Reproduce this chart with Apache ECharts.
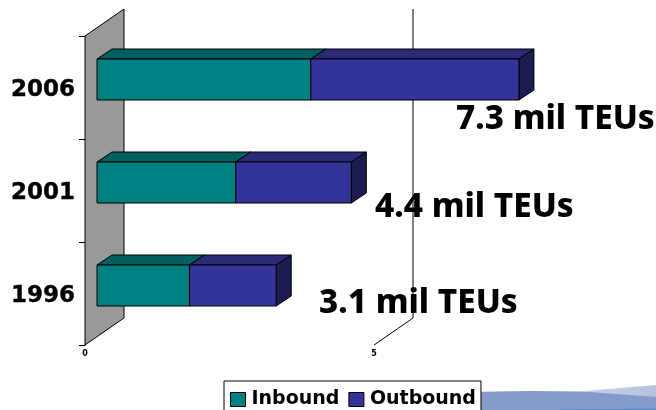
<!DOCTYPE html>
<html>
<head>
<meta charset="utf-8">
<style>
	html, body { margin: 0; padding: 0; background: #fff; }
	#chart { width: 656px; height: 410px; }
</style>
<script src="https://cdn.jsdelivr.net/npm/echarts@6/dist/echarts.min.js"></script>
</head>
<body>
<div id="chart"></div>
<script>
const categories = ['1996', '2001', '2006']
const inbound = [1.6, 2.4, 3.7]
const outbound = [1.5, 2.0, 3.6]
const totalLabels = ['3.1 mil TEUs', '4.4 mil TEUs', '7.3 mil TEUs']
const seriesNames = ['Inbound', 'Outbound']

const WALL = [39, -27]
const BAR_SHIFT = [12, -8]
const BAR_DEPTH = [15, -10]
const BAR_HEIGHT = 41
const FONT = '"DejaVu Sans", Verdana, sans-serif'
const LABEL_FONT = '"Noto Sans", "DejaVu Sans", sans-serif'

const myChart = echarts.init(document.getElementById('chart'))

function poly(points, fill, lineWidth) {
	return {
		type: 'polygon',
		shape: { points: points },
		style: { fill: fill, stroke: '#000', lineWidth: lineWidth || 1 }
	}
}

// wall at 0 and the bent grid line at 5
function renderFrame(params, api) {
	const x = api.value(0)
	const bottom = api.coord([x, 0])
	const band = api.size([0, 1])[1]
	const top = api.coord([x, 2])
	const y0 = bottom[1] + band / 2
	const y1 = top[1] - band / 2
	if (x === 0) {
		return poly([
			[bottom[0], y0],
			[bottom[0], y1],
			[bottom[0] + WALL[0], y1 + WALL[1]],
			[bottom[0] + WALL[0], y0 + WALL[1]]
		], '#999999')
	}
	return {
		type: 'polyline',
		shape: { points: [[bottom[0], y0], [bottom[0] + WALL[0], y0 + WALL[1]], [bottom[0] + WALL[0], y1 + WALL[1]]] },
		style: { fill: null, stroke: '#000', lineWidth: 1 }
	}
}

function renderBlock(colors) {
	return function (params, api) {
		const start = api.coord([api.value(1), api.value(0)])
		const end = api.coord([api.value(2), api.value(0)])
		const x0 = start[0] + BAR_SHIFT[0]
		const x1 = end[0] + BAR_SHIFT[0]
		const y0 = start[1] + BAR_SHIFT[1] - BAR_HEIGHT / 2
		const y1 = y0 + BAR_HEIGHT
		const dx = BAR_DEPTH[0]
		const dy = BAR_DEPTH[1]
		return {
			type: 'group',
			children: [
				poly([[x0, y0], [x1, y0], [x1 + dx, y0 + dy], [x0 + dx, y0 + dy]], colors[1]),
				poly([[x1, y0], [x1 + dx, y0 + dy], [x1 + dx, y1 + dy], [x1, y1]], colors[2]),
				poly([[x0, y0], [x1, y0], [x1, y1], [x0, y1]], colors[0])
			]
		}
	}
}

const inboundRows = categories.map((c, i) => [i, 0, inbound[i]])
const outboundRows = categories.map((c, i) => [i, inbound[i], inbound[i] + outbound[i]])

const labelPos = [[319, 304], [375, 208], [456, 119.5]]

const option = {
	animation: false,
	backgroundColor: '#fff',
	grid: { left: 85, top: 36, width: 462.4, height: 309 },
	xAxis: {
		type: 'value',
		min: 0,
		max: 8,
		interval: 5,
		axisLine: { show: false },
		axisTick: { show: false },
		splitLine: { show: false },
		axisLabel: {
			showMaxLabel: false,
			margin: 5,
			color: '#000',
			fontFamily: FONT,
			fontWeight: 'bold',
			fontSize: 8
		}
	},
	yAxis: {
		type: 'category',
		data: categories,
		axisLine: { show: true, lineStyle: { color: '#000' } },
		axisTick: { show: true, length: 6, lineStyle: { color: '#000' } },
		axisLabel: {
			margin: 10,
			verticalAlign: 'top',
			lineHeight: 6,
			color: '#000',
			fontFamily: FONT,
			fontWeight: 'bold',
			fontSize: 23,
			textBorderColor: '#000',
			textBorderWidth: 0.4
		}
	},
	legend: {
		data: seriesNames,
		icon: 'rect',
		left: 224,
		top: 381,
		padding: [9, 5, 6, 6],
		itemGap: 9,
		itemWidth: 15,
		itemHeight: 14,
		backgroundColor: '#fff',
		borderColor: '#000',
		borderWidth: 1,
		itemStyle: { borderColor: '#000', borderWidth: 1 },
		textStyle: {
			color: '#000',
			fontFamily: FONT,
			fontWeight: 'bold',
			fontSize: 19,
			padding: [0, 0, 0, 1]
		}
	},
	graphic: [
		{
			type: 'polygon',
			z: -2,
			silent: true,
			shape: { points: [[481, 391], [585, 391], [656, 385], [656, 410], [481, 410]] },
			style: {
				fill: new echarts.graphic.LinearGradient(0, 0, 1, 0, [
					{ offset: 0, color: '#dfe5f1' },
					{ offset: 0.6, color: '#c9d3e8' },
					{ offset: 1, color: '#b3c1de' }
				])
			}
		},
		{
			type: 'polygon',
			z: -1,
			silent: true,
			shape: { points: [[481, 392], [530, 391], [590, 392], [656, 397], [656, 410], [481, 410]] },
			style: { fill: '#839acb' }
		},
		{
			type: 'polygon',
			z: -1,
			silent: true,
			shape: { points: [[560, 409.4], [656, 408.6], [656, 410], [560, 410]] },
			style: { fill: '#5a8bc4' }
		}
	].concat(totalLabels.map((t, i) => ({
		type: 'text',
		z: 50,
		silent: true,
		style: {
			x: labelPos[i][0],
			y: labelPos[i][1],
			text: t,
			verticalAlign: 'middle',
			fill: '#000',
			font: '800 33.3px ' + LABEL_FONT
		}
	}))),
	series: [
		{
			type: 'custom',
			name: 'frame',
			z: 1,
			silent: true,
			clip: false,
			renderItem: renderFrame,
			data: [[0], [5]],
			encode: { x: 0 }
		},
		{
			type: 'custom',
			name: seriesNames[0],
			z: 2,
			silent: true,
			clip: false,
			itemStyle: { color: '#008080' },
			renderItem: renderBlock(['#008080', '#006060', '#004d4d']),
			data: inboundRows,
			encode: { x: [1, 2], y: 0 }
		},
		{
			type: 'custom',
			name: seriesNames[1],
			z: 3,
			silent: true,
			clip: false,
			itemStyle: { color: '#333399' },
			renderItem: renderBlock(['#333399', '#2a2a78', '#1c1c50']),
			data: outboundRows,
			encode: { x: [1, 2], y: 0 }
		}
	]
}

myChart.setOption(option)
</script>
</body>
</html>
